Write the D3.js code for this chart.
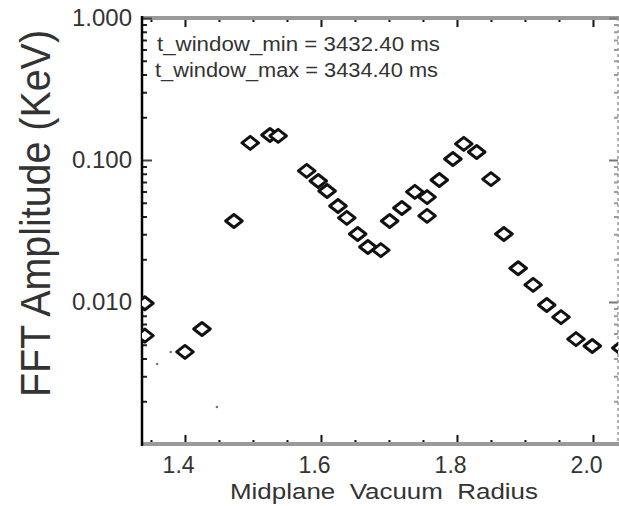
<!DOCTYPE html>
<html>
<head>
<meta charset="utf-8">
<script src="https://cdn.jsdelivr.net/npm/d3@7"></script>
<style>
  html, body { margin: 0; padding: 0; background: #fff; }
  svg { display: block; }
  text { font-family: "Liberation Sans", Arial, Helvetica, sans-serif; fill: #333; }
</style>
</head>
<body>
<svg id="chart" width="619" height="506"></svg>
<script>
// ---- data ----
const radius = [1.341, 1.341, 1.400, 1.425, 1.472, 1.496, 1.525, 1.537, 1.579, 1.596,
                1.609, 1.625, 1.638, 1.654, 1.669, 1.688, 1.701, 1.719, 1.738, 1.756,
                1.756, 1.774, 1.794, 1.810, 1.829, 1.850, 1.869, 1.890, 1.912, 1.932,
                1.953, 1.975, 1.999, 2.041];
const amplitude = [0.0098, 0.0058, 0.00445, 0.00646, 0.0372, 0.132, 0.150, 0.148, 0.0838, 0.0711,
                   0.0605, 0.0474, 0.0391, 0.0301, 0.0244, 0.0232, 0.0372, 0.0459, 0.0596, 0.0548,
                   0.0404, 0.0723, 0.1016, 0.1298, 0.1138, 0.0734, 0.0301, 0.0173, 0.0132, 0.00953,
                   0.00783, 0.00548, 0.00490, 0.00474];
const dotRadius = [1.359, 1.379, 1.447];
const dotAmplitude = [0.00366, 0.00445, 0.00182];
const xMajorTicks = [1.4, 1.6, 1.8, 2.0];
const xMinorTicks = [1.35, 1.45, 1.5, 1.55, 1.65, 1.7, 1.75, 1.85, 1.9, 1.95];
const yMajorTicks = [1, 0.1, 0.01];
const yTickLabels = ["1.000", "0.100", "0.010"];
const annotations = ["t_window_min = 3432.40 ms", "t_window_max = 3434.40 ms"];
const xTitle = "Midplane  Vacuum  Radius";
const yTitle = "FFT Amplitude (KeV)";

// ---- layout ----
const L = 142, R = 618, T = 18, B = 444;
const svg = d3.select("#chart");
const x = d3.scaleLinear().domain([1.3368, 2.0368]).range([L, R]);
const y = d3.scaleLog().domain([0.001, 1]).range([B, T]);

const yMinor = [];
[0.001, 0.01, 0.1].forEach(dec => { for (let k = 2; k <= 9; k++) yMinor.push(dec * k); });

function styleAxis(g, color, width) {
  g.selectAll(".tick line").attr("stroke", color).attr("stroke-width", width);
}

// bottom axis
const gb = svg.append("g").attr("transform", `translate(0,${B})`);
gb.append("g").call(d3.axisBottom(x).tickValues(xMinorTicks).tickSize(-4).tickFormat(""))
  .call(g => g.select(".domain").remove()).call(g => styleAxis(g, "#111", 2));
gb.append("g").call(d3.axisBottom(x).tickValues(xMajorTicks).tickSize(-9).tickPadding(13).tickFormat(d3.format(".1f")))
  .call(g => g.select(".domain").remove()).call(g => styleAxis(g, "#111", 2))
  .call(g => g.selectAll("text").attr("font-size", 23).attr("fill", "#333").attr("dx", "-0.3em")
        .style("font-family", '"Liberation Sans", Arial, sans-serif'));
gb.append("line").attr("x1", L).attr("x2", R + 1).attr("stroke", "#9a9a9a").attr("stroke-width", 4);

// top axis
const gt = svg.append("g").attr("transform", `translate(0,${T})`);
gt.append("g").call(d3.axisTop(x).tickValues(xMinorTicks).tickSize(-4).tickFormat(""))
  .call(g => g.select(".domain").remove()).call(g => styleAxis(g, "#111", 2));
gt.append("g").call(d3.axisTop(x).tickValues(xMajorTicks).tickSize(-9).tickFormat(""))
  .call(g => g.select(".domain").remove()).call(g => styleAxis(g, "#111", 2));
gt.append("line").attr("x1", L).attr("x2", R + 1).attr("stroke", "#9a9a9a").attr("stroke-width", 4);

// left axis
const gl = svg.append("g").attr("transform", `translate(${L},0)`);
gl.append("g").call(d3.axisLeft(y).tickValues(yMinor).tickSize(-5).tickFormat(""))
  .call(g => g.select(".domain").remove()).call(g => styleAxis(g, "#222", 2));
gl.append("g").call(d3.axisLeft(y).tickValues(yMajorTicks).tickSize(-10).tickPadding(10)
      .tickFormat((d, i) => yTickLabels[i]))
  .call(g => g.select(".domain").remove()).call(g => styleAxis(g, "#444", 2))
  .call(g => g.selectAll("text").attr("font-size", 24).attr("fill", "#333")
        .style("font-family", '"Liberation Sans", Arial, sans-serif'));
gl.append("line").attr("y1", T - 2).attr("y2", B + 2).attr("stroke", "#000").attr("stroke-width", 2.5);

// right axis
const gr = svg.append("g").attr("transform", `translate(${R},0)`);
gr.append("g").call(d3.axisRight(y).tickValues(yMinor).tickSize(-4).tickFormat(""))
  .call(g => g.select(".domain").remove()).call(g => styleAxis(g, "#999", 2));
gr.append("g").call(d3.axisRight(y).tickValues(yMajorTicks).tickSize(-9).tickFormat(""))
  .call(g => g.select(".domain").remove()).call(g => styleAxis(g, "#777", 2));
gr.append("line").attr("y1", T).attr("y2", B).attr("stroke", "#999").attr("stroke-width", 1.5)
  .attr("stroke-dasharray", "3,3");

// titles
svg.append("text").attr("x", 230).attr("y", 499).attr("font-size", 22)
  .attr("textLength", 308).attr("lengthAdjust", "spacingAndGlyphs").attr("xml:space", "preserve")
  .style("white-space", "pre").text(xTitle);
svg.append("text").attr("transform", "translate(50,397) rotate(-90)").attr("font-size", 42)
  .attr("textLength", 367).attr("lengthAdjust", "spacingAndGlyphs").text(yTitle);

// annotations
svg.selectAll("text.ann").data(annotations).join("text").attr("class", "ann")
  .attr("x", (d, i) => 157 - i * 2).attr("y", (d, i) => 51 + i * 26)
  .attr("font-size", 20).attr("textLength", 283).attr("lengthAdjust", "spacingAndGlyphs")
  .text(d => d);

// data
svg.append("clipPath").attr("id", "plotclip").append("rect")
  .attr("x", L).attr("y", T).attr("width", R - L).attr("height", B - T);
const diamondType = {
  draw(ctx, size) {
    const hw = 8.3, hh = 6.5;
    ctx.moveTo(-hw, 0); ctx.lineTo(0, -hh); ctx.lineTo(hw, 0); ctx.lineTo(0, hh); ctx.closePath();
  }
};
const plot = svg.append("g").attr("clip-path", "url(#plotclip)");
plot.selectAll("path.pt").data(radius.map((r, i) => [r, amplitude[i]])).join("path")
  .attr("class", "pt")
  .attr("d", d3.symbol().type(diamondType)())
  .attr("transform", d => `translate(${x(d[0])},${y(d[1])})`)
  .attr("fill", "#fff").attr("stroke", "#111").attr("stroke-width", 3)
  .attr("stroke-linejoin", "round");
plot.selectAll("circle.dot").data(dotRadius.map((r, i) => [r, dotAmplitude[i]])).join("circle")
  .attr("class", "dot").attr("cx", d => x(d[0])).attr("cy", d => y(d[1])).attr("r", 1.3)
  .attr("fill", "#777");
</script>
</body>
</html>
